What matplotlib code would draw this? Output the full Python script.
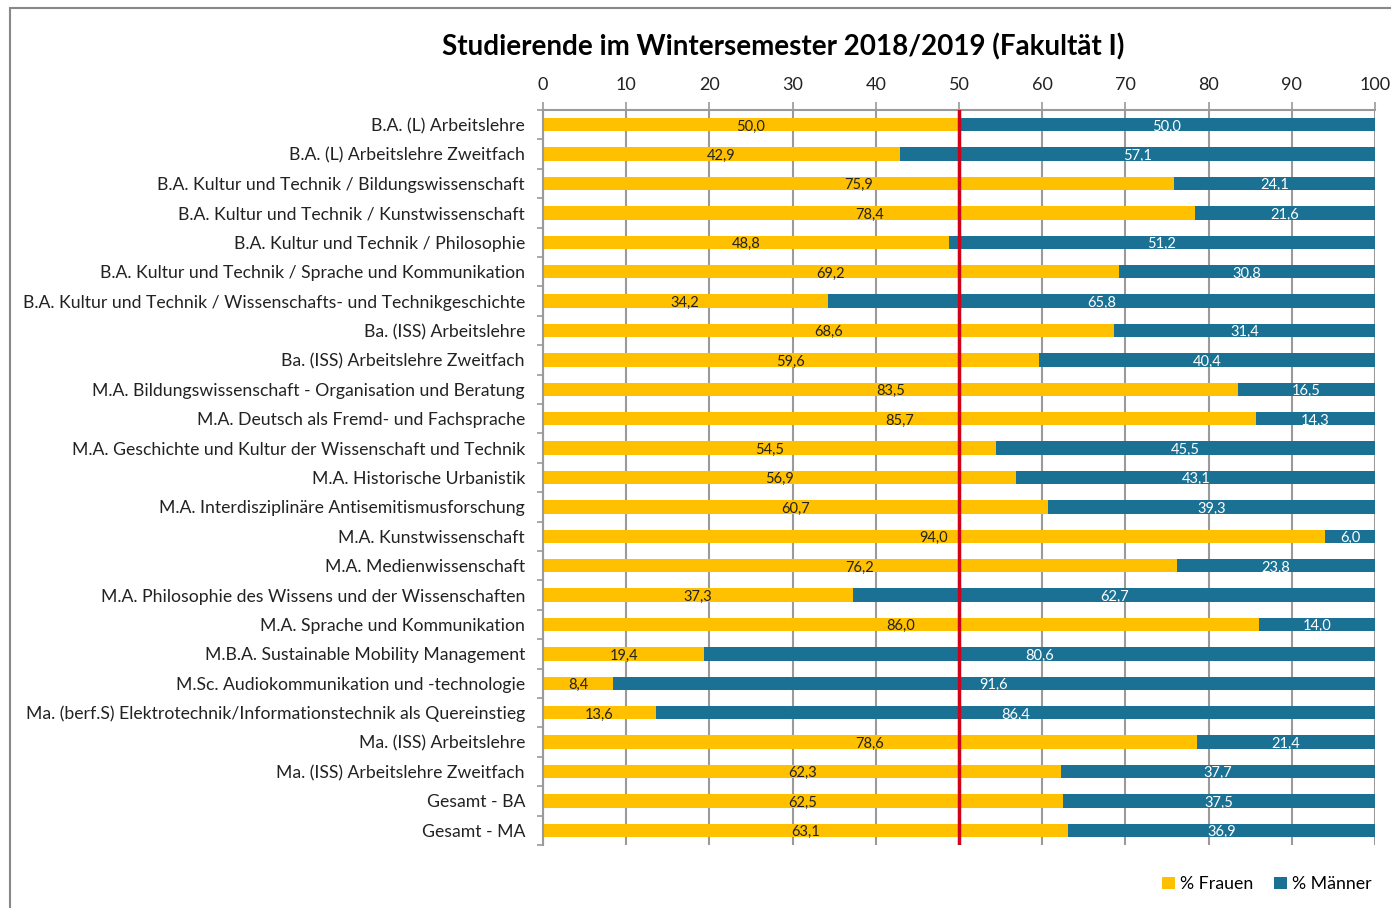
import matplotlib
matplotlib.use("Agg")
import matplotlib.pyplot as plt
from matplotlib.patches import Rectangle
import numpy as np

categories = [
    "B.A. (L) Arbeitslehre",
    "B.A. (L) Arbeitslehre Zweitfach",
    "B.A. Kultur und Technik / Bildungswissenschaft",
    "B.A. Kultur und Technik / Kunstwissenschaft",
    "B.A. Kultur und Technik / Philosophie",
    "B.A. Kultur und Technik / Sprache und Kommunikation",
    "B.A. Kultur und Technik / Wissenschafts- und Technikgeschichte",
    "Ba. (ISS) Arbeitslehre",
    "Ba. (ISS) Arbeitslehre Zweitfach",
    "M.A. Bildungswissenschaft - Organisation und Beratung",
    "M.A. Deutsch als Fremd- und Fachsprache",
    "M.A. Geschichte und Kultur der Wissenschaft und Technik",
    "M.A. Historische Urbanistik",
    "M.A. Interdisziplinäre Antisemitismusforschung",
    "M.A. Kunstwissenschaft",
    "M.A. Medienwissenschaft",
    "M.A. Philosophie des Wissens und der Wissenschaften",
    "M.A. Sprache und Kommunikation",
    "M.B.A. Sustainable Mobility Management",
    "M.Sc. Audiokommunikation und -technologie",
    "Ma. (berf.S) Elektrotechnik/Informationstechnik als Quereinstieg",
    "Ma. (ISS) Arbeitslehre",
    "Ma. (ISS) Arbeitslehre Zweitfach",
    "Gesamt - BA",
    "Gesamt - MA",
]
frauen = [50.0, 42.9, 75.9, 78.4, 48.8, 69.2, 34.2, 68.6, 59.6, 83.5, 85.7, 54.5,
          56.9, 60.7, 94.0, 76.2, 37.3, 86.0, 19.4, 8.4, 13.6, 78.6, 62.3, 62.5, 63.1]
maenner = [50.0, 57.1, 24.1, 21.6, 51.2, 30.8, 65.8, 31.4, 40.4, 16.5, 14.3, 45.5,
           43.1, 39.3, 6.0, 23.8, 62.7, 14.0, 80.6, 91.6, 86.4, 21.4, 37.7, 37.5, 36.9]
series_names = ["% Frauen", "% Männer"]
xticks = [0, 10, 20, 30, 40, 50, 60, 70, 80, 90, 100]
title = "Studierende im Wintersemester 2018/2019 (Fakultät I)"

YELLOW = "#FFC000"
TEAL = "#1A7193"
GRID = "#9a9a9a"

plt.rcParams['font.family'] = ['Lato', 'DejaVu Sans']

W, H = 1391, 908
fig = plt.figure(figsize=(W / 100, H / 100), dpi=100)
ax = fig.add_axes([543 / W, 1 - 845 / H, (1375 - 543) / W, (845 - 110) / H])

y = np.arange(len(categories))
bh = 0.45
b1 = ax.barh(y, frauen, height=bh, color=YELLOW, label=series_names[0], zorder=2)
b2 = ax.barh(y, maenner, left=frauen, height=bh, color=TEAL, label=series_names[1], zorder=2)

for yi, f, m in zip(y, frauen, maenner):
    ax.text(f / 2, yi + 0.06, f"{f:.1f}".replace(".", ","), ha="center", va="center",
            fontsize=10.5, color="#222222", zorder=4)
    ax.text(f + m / 2, yi + 0.06, f"{m:.1f}".replace(".", ","), ha="center", va="center",
            fontsize=10.5, color="white", zorder=4)

ax.axvline(50, color="#D0021B", lw=2.5, zorder=5)

ax.set_xlim(0, 100)
ax.set_ylim(len(categories) - 0.5, -0.5)
ax.xaxis.tick_top()
ax.set_xticks(xticks)
ax.set_xticklabels([str(t) for t in xticks], fontsize=13, color="#222222")
ax.tick_params(axis="x", length=6, width=1.2, color=GRID, pad=6)
ax.grid(axis="x", color=GRID, lw=1.5, zorder=0)

ax.set_yticks(y)
ax.set_yticklabels(categories, fontsize=12.7, color="#222222")
ax.tick_params(axis="y", which="major", length=0, pad=13)
ax.set_yticks(np.arange(-0.5, len(categories), 1), minor=True)
ax.tick_params(axis="y", which="minor", length=4, width=1.2, color=GRID)

for s in ["right", "bottom"]:
    ax.spines[s].set_visible(False)
for s in ["top", "left"]:
    ax.spines[s].set_color(GRID)
    ax.spines[s].set_linewidth(1.5)

fig.text(783 / W, 1 - 47 / H, title, ha="center", va="center", fontsize=20,
         fontweight="bold", color="black")

leg = fig.legend(handles=[b1, b2], labels=series_names, loc="center",
                 bbox_to_anchor=(1267 / W, 1 - 884 / H), ncol=2, frameon=False,
                 fontsize=12.8, handlelength=0.7, handleheight=0.7, handletextpad=0.3,
                 columnspacing=1.2)

fig.patches.append(Rectangle((9.5 / W, -0.1), 1.2, 1 - 7.5 / H + 0.1, transform=fig.transFigure,
                             fill=False, edgecolor="#888888", lw=1.5))

fig.savefig("out.png", dpi=100)
